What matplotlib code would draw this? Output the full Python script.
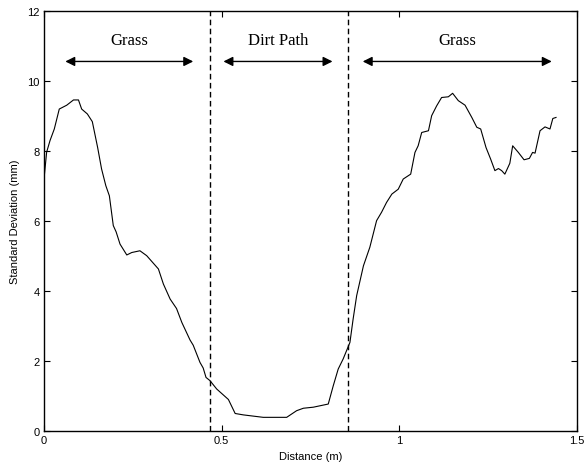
import numpy as np
import matplotlib
matplotlib.use("Agg")
import matplotlib.pyplot as plt

# standard deviation of surface height along the path
distance = [
    0.0, 0.0075, 0.017, 0.029, 0.043, 0.064, 0.083, 0.097, 0.106, 0.122,
    0.136, 0.151, 0.162, 0.174, 0.184, 0.195, 0.203, 0.214, 0.233, 0.247,
    0.27, 0.289, 0.322, 0.336, 0.355, 0.373, 0.388, 0.411, 0.42, 0.439,
    0.448, 0.456, 0.467, 0.486, 0.519, 0.538, 0.561, 0.617, 0.683, 0.711,
    0.73, 0.758, 0.8, 0.814, 0.828, 0.842, 0.861, 0.87, 0.88, 0.899,
    0.917, 0.93, 0.936, 0.95, 0.964, 0.979, 0.997, 1.011, 1.032, 1.044,
    1.053, 1.063, 1.082, 1.091, 1.105, 1.119, 1.138, 1.15, 1.166, 1.185,
    1.204, 1.218, 1.229, 1.244, 1.257, 1.269, 1.279, 1.288, 1.297, 1.311,
    1.319, 1.335, 1.351, 1.366, 1.375, 1.382, 1.396, 1.41, 1.424, 1.432,
    1.441,
]
std_dev = [
    7.2, 7.97, 8.3, 8.63, 9.2, 9.31, 9.46, 9.46, 9.2, 9.06,
    8.84, 8.1, 7.49, 7.01, 6.72, 5.87, 5.69, 5.34, 5.03, 5.1,
    5.15, 5.01, 4.63, 4.2, 3.77, 3.5, 3.1, 2.6, 2.45, 1.96,
    1.8, 1.53, 1.44, 1.2, 0.9, 0.5, 0.46, 0.39, 0.39, 0.58,
    0.65, 0.68, 0.77, 1.29, 1.77, 2.06, 2.53, 3.2, 3.87, 4.72,
    5.25, 5.77, 6.01, 6.25, 6.53, 6.77, 6.91, 7.2, 7.34, 7.96,
    8.15, 8.53, 8.58, 9.01, 9.29, 9.53, 9.55, 9.65, 9.44, 9.31,
    8.96, 8.68, 8.63, 8.1, 7.77, 7.44, 7.5, 7.44, 7.34, 7.65,
    8.15, 7.96, 7.75, 7.79, 7.96, 7.94, 8.58, 8.69, 8.63, 8.93,
    8.96,
]

boundaries = [0.466, 0.855]
region_labels = ["Grass", "Dirt Path", "Grass"]
region_spans = [(0.06, 0.42), (0.505, 0.812), (0.897, 1.429)]
arrow_y = 10.56
label_y = 10.95

plt.rcParams["font.family"] = ["Liberation Sans", "DejaVu Sans"]

fig = plt.figure(figsize=(5.85, 4.64), dpi=100)
ax = fig.add_axes([0.0752, 0.069, 0.9111, 0.905])

ax.plot(distance, std_dev, color="black", lw=0.8)

for b in boundaries:
    ax.axvline(b, color="black", lw=1.0, ls=(0, (4, 2.5)))

for label, (x0, x1) in zip(region_labels, region_spans):
    ax.annotate(
        "", xy=(x1, arrow_y), xytext=(x0, arrow_y),
        arrowprops=dict(arrowstyle="<|-|>", color="black", lw=1.0,
                        mutation_scale=14, shrinkA=0, shrinkB=0),
    )
    ax.text((x0 + x1) / 2, label_y, label, ha="center", va="bottom",
            fontsize=12, family="Liberation Serif")

ax.set_xlim(0, 1.5)
ax.set_ylim(0, 12)
ax.set_xticks([0, 0.5, 1, 1.5])
ax.set_xticklabels(["0", "0.5", "1", "1.5"])
ax.set_yticks([0, 2, 4, 6, 8, 10, 12])
ax.tick_params(direction="in", top=True, right=True, length=4, width=0.8,
               labelsize=8, pad=3)
for s in ax.spines.values():
    s.set_linewidth(1.0)

ax.set_xlabel("Distance (m)", fontsize=8, labelpad=4)
ax.set_ylabel("Standard Deviation (mm)", fontsize=8, labelpad=5)

fig.savefig("out.png", dpi=100)
